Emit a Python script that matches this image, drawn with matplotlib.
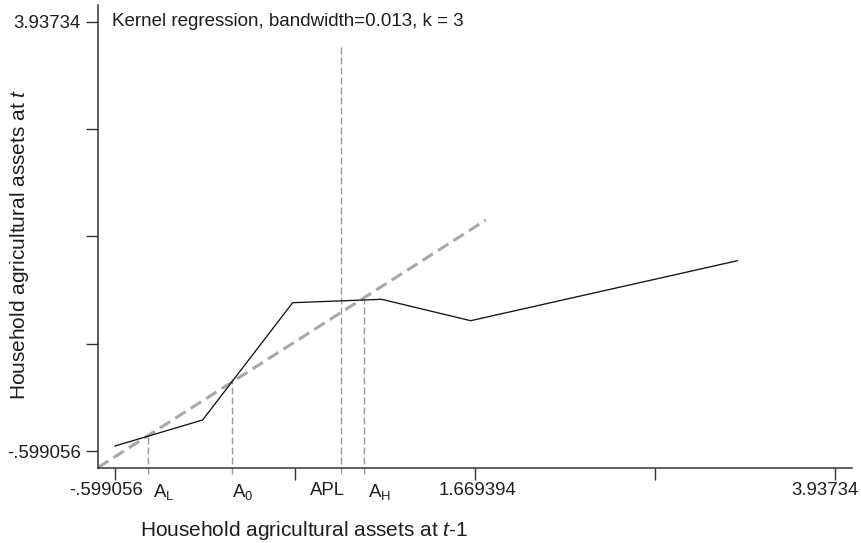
import matplotlib
matplotlib.use('Agg')
import matplotlib.pyplot as plt
from matplotlib.transforms import ScaledTranslation

plt.rcParams['font.family'] = ['Liberation Sans', 'DejaVu Sans']
plt.rcParams['mathtext.fontset'] = 'custom'
plt.rcParams['mathtext.rm'] = 'Liberation Sans'
plt.rcParams['mathtext.it'] = 'Liberation Sans:italic'

# ---- data ----
curve_x = [-0.599, -0.047, 0.520, 1.081, 1.642, 3.322]
curve_y = [-0.546, -0.271, 0.969, 1.005, 0.779, 1.413]
diag_x = [-0.706, 1.738]
diag_y = [-0.774, 1.844]
marker_names = [r'$\mathregular{A_L}$', r'$\mathregular{A_0}$', 'APL', r'$\mathregular{A_H}$']
marker_x = [-0.391, 0.135, 0.825, 0.970]
marker_top = [-0.430, 0.160, 3.694, 1.008]
marker_label_x = [-0.360, 0.140, 0.630, 0.995]
axis_ticks = [-0.599056, 0.535169, 1.669394, 2.803367, 3.93734]
xtick_labels = ['-.599056', '', '1.669394', '', '3.93734']
ytick_labels = ['-.599056', '', '', '', '3.93734']
title = 'Kernel regression, bandwidth=0.013, k = 3'
xlabel = r'Household agricultural assets at $\mathit{t}$-$\mathit{1}$'
ylabel = r'Household agricultural assets at $\mathit{t}$'

W, H = 861, 543
fig = plt.figure(figsize=(W / 100, H / 100), dpi=100)
ax = fig.add_axes([98 / W, 1 - 467.5 / H, (852 - 98) / W, (467.5 - 5) / H])
ax.set_xlim(-0.7062, 4.0444)
ax.set_ylim(-0.7735, 4.1171)

ink = '#1e1e1e'
for s in ['top', 'right']:
    ax.spines[s].set_visible(False)
for s in ['left', 'bottom']:
    ax.spines[s].set_color('#333333')
    ax.spines[s].set_linewidth(1.1)

# 45-degree line
ax.plot(diag_x, diag_y, color='#a8a8a8', lw=2.2, dashes=(4, 2), solid_capstyle='butt',
        dash_capstyle='butt', zorder=2)
# kernel regression curve
ax.plot(curve_x, curve_y, color='#141414', lw=0.95, zorder=3)

# vertical dashed markers extending a bit below the axis
ylo = ax.get_ylim()[0] - 6.5 / 94.57
for mx, mt in zip(marker_x, marker_top):
    ax.plot([mx, mx], [ylo, mt], color='#9a9a9a', lw=1.0, dashes=(5, 2.2),
            clip_on=False, zorder=2)

# ticks
ax.set_xticks(axis_ticks)
ax.set_xticklabels(xtick_labels)
ax.set_yticks(axis_ticks)
ax.set_yticklabels(ytick_labels)
ax.tick_params(axis='both', which='major', length=8.64, width=1.0, color='#333333',
               labelsize=13.4, labelcolor=ink)
ax.tick_params(axis='x', which='major', pad=2)
ax.tick_params(axis='y', which='major', pad=3.6)

ax.set_xticks(marker_label_x, minor=True)
ax.set_xticklabels(marker_names, minor=True)
ax.tick_params(axis='x', which='minor', length=0, pad=10.64, labelsize=13.4, labelcolor=ink)
for lab in ax.get_xticklabels(minor=True):
    lab.set_ha('left')

offsets = [-9, 0, 2, 0, -10]
for lab, dx in zip(ax.get_xticklabels(), offsets):
    lab.set_transform(lab.get_transform() + ScaledTranslation(dx / 100, 0, fig.dpi_scale_trans))

fig.text(112 / W, 1 - 26 / H, title, fontsize=13.5, ha='left', va='baseline', color=ink)
fig.text(304 / W, 1 - 536 / H, xlabel, fontsize=15, ha='center', va='baseline', color=ink)
fig.text(31 / W, 1 - 244 / H, ylabel, fontsize=15, ha='right', va='center', rotation=90,
         color=ink)

fig.savefig('out.png', dpi=100)
